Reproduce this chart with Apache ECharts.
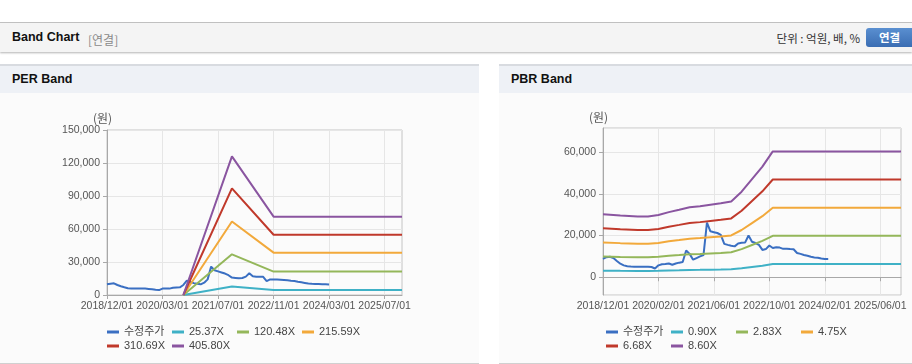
<!DOCTYPE html>
<html><head><meta charset="utf-8">
<script src="https://cdn.jsdelivr.net/npm/echarts@6/dist/echarts.min.js"></script>
<style>
body{margin:0;width:912px;height:364px;background:#fff;position:relative;overflow:hidden;font-family:'Liberation Sans','Noto Sans CJK KR',sans-serif;}
.topline{position:absolute;left:0;top:22px;width:912px;height:1px;background:#c4c4c4;}
.hdr{position:absolute;left:0;top:23px;width:912px;height:29px;background:#f4f4f4;box-shadow:0 1px 2px rgba(0,0,0,0.3);}
.hdr .t{position:absolute;left:12px;top:7px;font-size:12.5px;font-weight:bold;color:#111;}
.hdr .s{position:absolute;left:88px;top:8px;font-size:12px;color:#8a8a8a;font-family:'Noto Sans CJK KR',sans-serif;}
.hdr .u{position:absolute;right:52px;top:7px;font-size:11.5px;color:#333;font-family:'Noto Sans CJK KR',sans-serif;}
.hdr .b{position:absolute;left:866px;top:5px;width:52px;height:19px;border-radius:3px;background:linear-gradient(#5a8fd0,#3a6db3);color:#fff;font-size:11.5px;font-weight:bold;line-height:19px;text-indent:13px;font-family:'Noto Sans CJK KR',sans-serif;}
.panel{position:absolute;top:64px;height:297px;background:#fbfbfb;border-top:2px solid #d8dbe0;border-bottom:2px solid #d0d0d0;}
.ptitle{position:absolute;left:0;top:0;right:0;height:27px;background:#eef1f6;}
.ptitle span{position:absolute;left:12px;top:6px;font-size:12.5px;font-weight:bold;color:#111;}
.chart{position:absolute;top:93px;height:270px;}
</style></head>
<body>
<div class="topline"></div>
<div class="hdr"><span class="t">Band Chart</span><span class="s">[연결]</span><span class="u">단위 : 억원, 배, %</span><span class="b">연결</span></div>
<div class="panel" style="left:0;width:479px;"><div class="ptitle"><span>PER Band</span></div></div>
<div class="panel" style="left:499px;width:413px;"><div class="ptitle"><span>PBR Band</span></div></div>
<div id="per" class="chart" style="left:0;width:479px;"></div>
<div id="pbr" class="chart" style="left:499px;width:413px;"></div>
<script>
// ---------- PER data ----------
const perCategories = ['2018/12/01','2019/01/01','2019/02/01','2019/03/01','2019/04/01','2019/05/01','2019/06/01','2019/07/01','2019/08/01','2019/09/01','2019/10/01','2019/11/01','2019/12/01','2020/01/01','2020/02/01','2020/02/15',
'2020/03/01','2020/04/01','2020/05/01','2020/06/01','2020/07/01','2020/08/01','2020/09/01','2020/10/01','2020/11/01','2020/12/01',
'2021/01/01','2021/02/01','2021/03/01','2021/04/01','2021/05/01','2021/06/01','2021/07/01','2021/08/01','2021/09/01','2021/10/01','2021/11/01','2021/12/01',
'2022/01/01','2022/02/01','2022/03/01','2022/04/01','2022/05/01','2022/06/01','2022/07/01','2022/08/01','2022/09/01','2022/10/01','2022/11/01','2022/12/01',
'2023/01/01','2023/02/01','2023/03/01','2023/04/01','2023/05/01','2023/06/01','2023/07/01','2023/08/01','2023/09/01','2023/10/01','2023/11/01','2023/12/01',
'2024/01/01','2024/02/01','2024/03/01','2024/04/01','2024/05/01','2024/06/01','2024/07/01','2024/08/01','2024/09/01','2024/10/01','2024/11/01','2024/12/01',
'2025/01/01','2025/02/01','2025/03/01','2025/04/01','2025/05/01','2025/06/01','2025/07/01','2025/08/01','2025/09/01','2025/10/01','2025/11/01','2025/12/01'];
const perNames = ['수정주가','25.37X','120.48X','215.59X','310.69X','405.80X'];
const perPrice = [9700,10300,10600,9100,8000,7000,6100,5900,5800,5800,5800,5800,5500,5200,4700,4500,
5800,5900,5800,6500,6800,7000,9100,13000,12000,10800,10200,9700,11200,14200,25800,22500,21500,20500,19500,18000,
15800,15500,15200,15500,16700,19700,17000,16700,16700,16500,12700,14200,14200,14000,13800,13600,13400,13000,12700,
12000,11500,11000,10500,10200,10000,9900,9800,9700,9600];
const perBand1 = [['2020/09/01',0],['2021/11/01',7800],['2022/11/01',4500],['2025/12/01',4500]];
const perBand2 = [['2020/09/01',0],['2021/11/01',37000],['2022/11/01',21300],['2025/12/01',21300]];
const perBand3 = [['2020/09/01',0],['2021/11/01',66800],['2022/11/01',38500],['2025/12/01',38500]];
const perBand4 = [['2020/09/01',0],['2021/11/01',97000],['2022/11/01',54800],['2025/12/01',54800]];
const perBand5 = [['2020/09/01',0],['2021/11/01',126000],['2022/11/01',71200],['2025/12/01',71200]];

// ---------- PBR data ----------
const pbrCategories = ['2018/12/01','2019/01/01','2019/02/01','2019/03/01','2019/04/01','2019/05/01','2019/06/01','2019/07/01','2019/08/01','2019/09/01','2019/10/01','2019/11/01','2019/12/01','2020/01/01','2020/01/11','2020/01/21',
'2020/02/01','2020/03/01','2020/04/01','2020/05/01','2020/06/01','2020/07/01','2020/08/01','2020/09/01','2020/10/01','2020/11/01','2020/12/01',
'2021/01/01','2021/02/01','2021/03/01','2021/04/01','2021/05/01','2021/06/01','2021/07/01','2021/08/01','2021/09/01','2021/10/01','2021/11/01','2021/12/01',
'2022/01/01','2022/02/01','2022/03/01','2022/04/01','2022/05/01','2022/06/01','2022/07/01','2022/08/01','2022/09/01','2022/10/01','2022/11/01','2022/12/01',
'2023/01/01','2023/02/01','2023/03/01','2023/04/01','2023/05/01','2023/06/01','2023/07/01','2023/08/01','2023/09/01','2023/10/01','2023/11/01','2023/12/01',
'2024/01/01','2024/02/01','2024/03/01','2024/04/01','2024/05/01','2024/06/01','2024/07/01','2024/08/01','2024/09/01','2024/10/01','2024/11/01','2024/12/01',
'2025/01/01','2025/02/01','2025/03/01','2025/04/01','2025/05/01','2025/06/01','2025/07/01','2025/08/01','2025/09/01','2025/10/01','2025/11/01','2025/12/01'];
const pbrNames = ['수정주가','0.90X','2.83X','4.75X','6.68X','8.60X'];
const pbrPrice = [8800,9600,9800,9200,7800,6500,5700,5300,5100,5000,5000,5000,5000,5000,4900,4200,
5700,6200,6300,6600,6000,6600,7000,7300,12800,11200,8400,9200,10000,10600,26200,22000,21600,21200,20300,16000,
15500,15100,14800,16200,16500,16600,20000,17000,16400,15500,13100,13500,15200,14000,14400,14200,13600,13700,13500,
13400,11600,11200,10700,10300,9800,9500,9300,9000,8800,8800];
const pbrDates = ['2018/12/01','2019/05/01','2019/10/01','2020/01/01','2020/02/01','2020/05/01','2020/08/01','2020/11/01','2021/02/01','2021/05/01','2021/08/01','2021/11/01','2022/02/01','2022/05/01','2022/08/01','2022/11/01','2025/12/01'];
const pbrBand1 = [3160,3100,3050,3050,3120,3270,3380,3510,3560,3630,3700,3800,4290,4920,5550,6310,6310];
const pbrBand2 = [9940,9740,9580,9580,9810,10270,10630,11020,11190,11420,11650,11950,13490,15470,17440,19840,19840];
const pbrBand3 = [16680,16350,16070,16070,16460,17230,17840,18500,18780,19170,19550,20050,22640,25960,29270,33310,33310];
const pbrBand4 = [23460,22990,22610,22610,23150,24240,25090,26020,26410,26950,27500,28200,31840,36510,41170,46840,46840];
const pbrBand5 = [30200,29600,29100,29100,29800,31200,32300,33500,34000,34700,35400,36300,41000,47000,53000,60300,60300];

const colors = ['#3a6fc2','#3fb1c6','#94b75a','#f2a93b','#c0392b','#8a55a0'];
const labelFont = "'Liberation Sans Narrow','Liberation Sans',sans-serif";

function pairs(dates, vals){ return dates.map((d,i)=>[d, vals[i]]); }

function makeOption(cats, names, seriesData, grid, yAxis, legendLeft){
  return {
    animation:false,
    color: colors,
    grid: Object.assign({show:true, borderColor:'#c4c4c4', borderWidth:1, backgroundColor:'transparent'}, grid),
    legend:{
      data: names, left: legendLeft, top: 233, width: 262, padding:0,
      icon:'rect', itemWidth:12, itemHeight:3, itemGap:2,
      textStyle:{fontSize:11, color:'#444', width:46, lineHeight:12, fontFamily:"'Liberation Sans','Noto Sans CJK KR',sans-serif"}
    },
    xAxis:{
      type:'category', data: cats, boundaryGap:false,
      axisLine:{lineStyle:{color:'#a8a8a8'}},
      axisTick:{interval:15, length:4, lineStyle:{color:'#a8a8a8'}},
      axisLabel:{interval:15, color:'#555', fontSize:10.5, fontFamily:labelFont, margin:6},
      splitLine:{show:true, interval:15, lineStyle:{color:'#e6e6e6'}}
    },
    yAxis: Object.assign({
      type:'value',
      nameTextStyle:{color:'#555', fontSize:12, fontFamily:"'Noto Sans CJK KR',sans-serif", padding:[0,9,0,0]},
      axisLine:{show:true, lineStyle:{color:'#a8a8a8'}},
      axisTick:{show:true, length:4, lineStyle:{color:'#a8a8a8'}},
      axisLabel:{color:'#555', fontSize:10.5, fontFamily:labelFont, margin:7,
        formatter: v => v.toLocaleString('en-US')},
      splitLine:{lineStyle:{color:'#e6e6e6'}}
    }, yAxis),
    series: seriesData.map((d,i)=>({
      name: names[i], type:'line', data:d, showSymbol:false, symbol:'none',
      connectNulls:true, lineStyle:{width:2}, emphasis:{disabled:true}
    }))
  };
}

const perChart = echarts.init(document.getElementById('per'));
perChart.setOption(makeOption(perCategories, perNames,
  [perPrice, perBand1, perBand2, perBand3, perBand4, perBand5],
  {left:107, top:37, width:295, height:165},
  {min:0, max:150000, interval:30000, name:'(원)', nameGap:5},
  107));

const pbrChart = echarts.init(document.getElementById('pbr'));
pbrChart.setOption(makeOption(pbrCategories, pbrNames,
  [pbrPrice, pairs(pbrDates,pbrBand1), pairs(pbrDates,pbrBand2), pairs(pbrDates,pbrBand3), pairs(pbrDates,pbrBand4), pairs(pbrDates,pbrBand5)],
  {left:104, top:35, width:298, height:167},
  {min:-8500, max:71500, splitNumber:4, name:'(원)', nameGap:5,
   axisLabel:{color:'#555', fontSize:10.5, fontFamily:labelFont, margin:7, showMinLabel:false, showMaxLabel:false,
     formatter: v => v.toLocaleString('en-US')}},
  107));
</script>
</body></html>
